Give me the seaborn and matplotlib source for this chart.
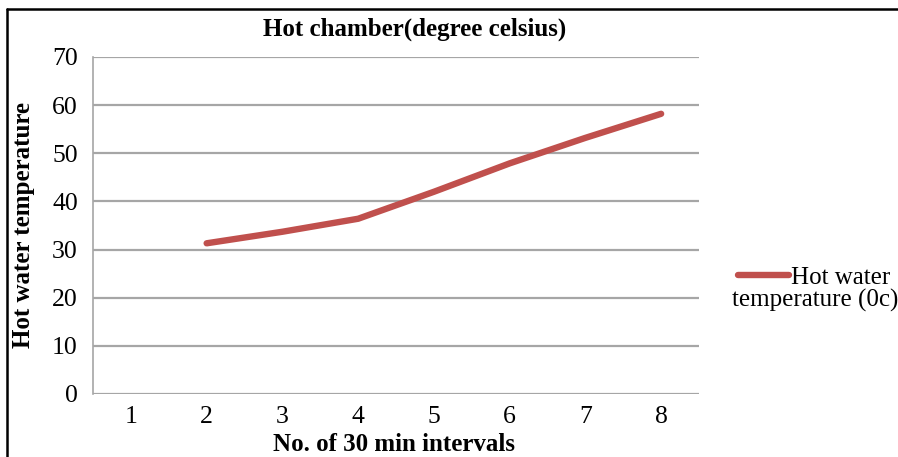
import matplotlib
matplotlib.use("Agg")
import matplotlib.pyplot as plt
from matplotlib.lines import Line2D
import numpy as np
import pandas as pd
import seaborn as sns

# Interval numbers and measured hot-water temperature (no reading for interval 1)
intervals = [1, 2, 3, 4, 5, 6, 7, 8]
hot_water_temp = [np.nan, 31.3, 33.7, 36.4, 42.0, 47.9, 53.2, 58.2]
y_ticks = [0, 10, 20, 30, 40, 50, 60, 70]
series_name = "Hot water temperature (0c)"

df = pd.DataFrame({"interval": intervals, "temp": hot_water_temp})

sns.set_theme(style="white")
plt.rcParams["font.family"] = ["Liberation Serif", "DejaVu Serif"]
plt.rcParams["text.color"] = "black"
plt.rcParams["axes.labelcolor"] = "black"

fig = plt.figure(figsize=(8.98, 4.57), dpi=100)
ax = fig.add_axes([0.1036, 0.1379, 0.6748, 0.7374])

line_color = "#C0504D"
grid_color = "#A6A6A6"

sns.lineplot(data=df, x="interval", y="temp", ax=ax, color=line_color,
             linewidth=4.6, solid_capstyle="round", solid_joinstyle="round",
             legend=False)

ax.set_xlim(0.5, 8.5)
ax.set_ylim(0, 70)
ax.set_yticks(y_ticks)
ax.set_xticks(intervals)
ax.set_xticklabels([str(i) for i in intervals])

for v in y_ticks:
    ax.axhline(v, color=grid_color, linewidth=1.6, zorder=0)

for side in ["top", "right", "bottom"]:
    ax.spines[side].set_visible(False)
ax.spines["left"].set_color(grid_color)
ax.spines["left"].set_linewidth(1.2)

ax.tick_params(axis="y", length=8, width=1.2, color=grid_color, pad=3,
               labelsize=18.5, labelcolor="black")
ax.tick_params(axis="x", length=0, pad=9, labelsize=18.5, labelcolor="black")

ax.set_xlabel("No. of 30 min intervals", fontsize=18, fontweight="bold",
              color="black")
ax.xaxis.set_label_coords(0.497, -0.115)
ax.set_ylabel("Hot water temperature", fontsize=18, fontweight="bold",
              va="center", color="black")
ax.yaxis.set_label_coords(-0.115, 0.5)
fig.text(0.462, 0.935, "Hot chamber(degree celsius)", ha="center", va="center",
         fontsize=18, fontweight="bold", color="black")

# Legend: handle beside the first line of text, the rest wrapping beneath
words = series_name.split(" ")
first, rest = " ".join(words[:2]), " ".join(words[2:])
handle = Line2D([], [], color=line_color, linewidth=4.6)
leg = fig.legend([handle], [first], loc="center left",
                 bbox_to_anchor=(0.822, 0.393), frameon=False, fontsize=18,
                 handlelength=2.05, handletextpad=0.05, borderpad=0,
                 borderaxespad=0, labelcolor="black")
fig.text(0.8155, 0.343, rest, ha="left", va="center", fontsize=18,
         color="black")

# Frame around the chart area
fig.add_artist(Line2D([0.0078, 0.0078], [0.0, 0.98], transform=fig.transFigure,
                      color="black", linewidth=1.8))
fig.add_artist(Line2D([0.0078, 1.0], [0.98, 0.98], transform=fig.transFigure,
                      color="black", linewidth=1.8))

fig.savefig("out.png", dpi=100)
